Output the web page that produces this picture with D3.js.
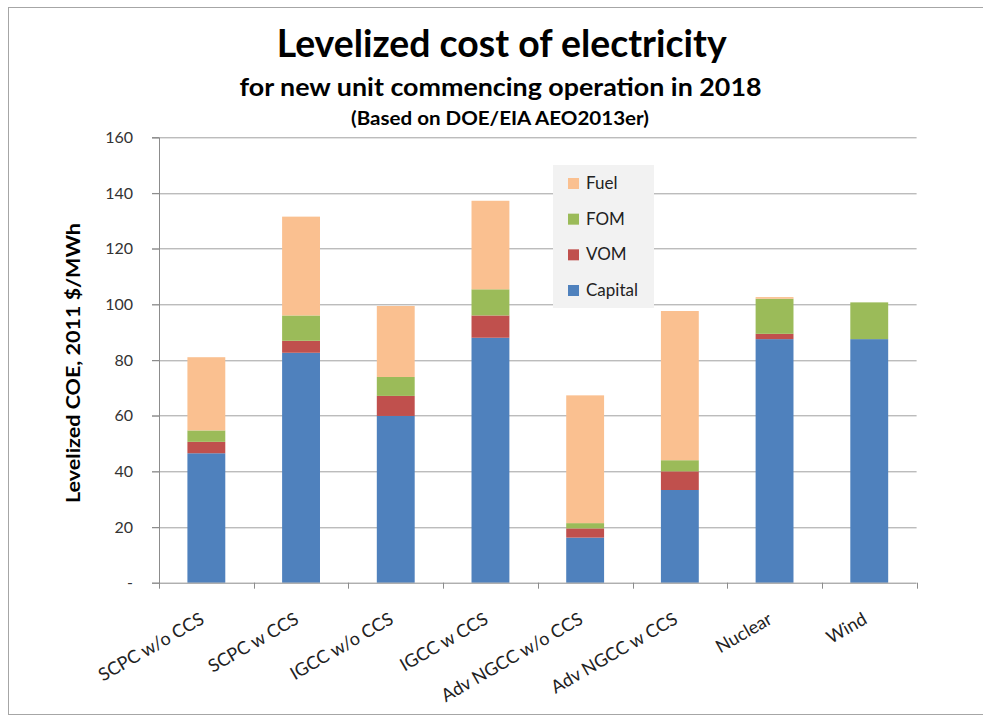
<!DOCTYPE html>
<html>
<head>
<meta charset="utf-8">
<script src="https://cdn.jsdelivr.net/npm/d3@7"></script>
<style>
  body { margin: 0; background: #fff; }
  text { font-family: Lato, "Open Sans", sans-serif; }
</style>
</head>
<body>
<div id="chart"></div>
<script>
// data ($/MWh, 2011 dollars)
var categories = ["SCPC w/o CCS", "SCPC w CCS", "IGCC w/o CCS", "IGCC w CCS",
  "Adv NGCC w/o CCS", "Adv NGCC w CCS", "Nuclear", "Wind"];
var capital = [46.5, 82.6, 59.9, 88.0, 16.2, 33.3, 87.5, 87.5];
var vom = [4.1, 4.3, 7.2, 8.0, 3.3, 6.7, 1.9, 0];
var fom = [4.1, 9.1, 6.8, 9.4, 1.9, 4.0, 12.6, 13.2];
var fuel = [26.3, 35.5, 25.5, 31.8, 45.9, 53.6, 0.6, 0];
var seriesNames = ["Capital", "VOM", "FOM", "Fuel"];
var yTicks = [0, 20, 40, 60, 80, 100, 120, 140, 160];

var colors = {Capital: "#4f81bd", VOM: "#c0504d", FOM: "#9bbb59", Fuel: "#fac090"};

// svg params
var svgWidth = 983;
var svgHeight = 719;
var margin = {top: 137.3, right: 66.4, bottom: 136.3, left: 159};
var chartWidth = svgWidth - margin.left - margin.right;
var chartHeight = svgHeight - margin.top - margin.bottom;

var svg = d3.select("#chart").append("svg")
  .attr("width", svgWidth)
  .attr("height", svgHeight);

// outer frame
svg.append("rect")
  .attr("x", 8.5).attr("y", 7.5)
  .attr("width", 1000).attr("height", 707)
  .attr("fill", "none")
  .attr("stroke", "#a6a6a6");

// titles
svg.append("text")
  .attr("x", 501.7).attr("y", 57)
  .attr("text-anchor", "middle")
  .attr("font-size", "38px").attr("font-weight", "bold")
  .attr("textLength", 450).attr("lengthAdjust", "spacingAndGlyphs")
  .text("Levelized cost of electricity");
svg.append("text")
  .attr("x", 500.5).attr("y", 96)
  .attr("text-anchor", "middle")
  .attr("font-size", "24px").attr("font-weight", "bold")
  .attr("textLength", 522).attr("lengthAdjust", "spacingAndGlyphs")
  .text("for new unit commencing operation in 2018");
svg.append("text")
  .attr("x", 500).attr("y", 125)
  .attr("text-anchor", "middle")
  .attr("font-size", "18px").attr("font-weight", "bold")
  .attr("textLength", 298).attr("lengthAdjust", "spacingAndGlyphs")
  .text("(Based on DOE/EIA AEO2013er)");

var chartGroup = svg.append("g")
  .attr("transform", `translate(${margin.left}, ${margin.top})`);

// build rows for stacking
var rows = categories.map(function(c, i) {
  return {cat: c, Capital: capital[i], VOM: vom[i], FOM: fom[i], Fuel: fuel[i]};
});
var stacked = d3.stack().keys(seriesNames)(rows);

var xScale = d3.scaleBand()
  .domain(categories)
  .range([0, chartWidth])
  .paddingInner(0.6)
  .paddingOuter(0.3);

var yScale = d3.scaleLinear()
  .domain([0, 160])
  .range([chartHeight, 0]);

// gridlines
chartGroup.append("g")
  .selectAll("line")
  .data(yTicks.filter(d => d > 0))
  .enter()
  .append("line")
  .attr("x1", -7).attr("x2", chartWidth)
  .attr("y1", d => Math.round(yScale(d)) + 0.5)
  .attr("y2", d => Math.round(yScale(d)) + 0.5)
  .attr("stroke", "#a0a0a0");

// bars
chartGroup.selectAll("g.series")
  .data(stacked)
  .enter()
  .append("g")
  .attr("class", "series")
  .attr("fill", d => colors[d.key])
  .selectAll("rect")
  .data(d => d)
  .enter()
  .append("rect")
  .attr("x", d => xScale(d.data.cat))
  .attr("width", xScale.bandwidth())
  .attr("y", d => yScale(d[1]))
  .attr("height", d => yScale(d[0]) - yScale(d[1]));

// y axis
var leftAxis = d3.axisLeft(yScale)
  .tickValues(yTicks)
  .tickSize(7)
  .tickPadding(19)
  .tickFormat(d => d === 0 ? "-" : d);
var yAxisG = chartGroup.append("g").call(leftAxis);
yAxisG.select(".domain").attr("stroke", "#8c8c8c");
yAxisG.selectAll(".tick line").attr("stroke", "#8c8c8c");
yAxisG.selectAll(".tick text")
  .attr("font-size", "16px")
  .attr("fill", "#333")
  .style("font-family", "Lato, sans-serif");

// x axis line and category boundary ticks
var xAxisG = chartGroup.append("g")
  .attr("transform", `translate(0, ${chartHeight})`);
xAxisG.append("line")
  .attr("x1", 0).attr("x2", chartWidth)
  .attr("y1", 0.5).attr("y2", 0.5)
  .attr("stroke", "#8c8c8c");
xAxisG.selectAll("line.tick")
  .data(d3.range(categories.length + 1))
  .enter()
  .append("line")
  .attr("class", "tick")
  .attr("x1", i => Math.round(i * xScale.step()) + 0.5)
  .attr("x2", i => Math.round(i * xScale.step()) + 0.5)
  .attr("y1", 0).attr("y2", 6)
  .attr("stroke", "#8c8c8c");

// rotated category labels
xAxisG.selectAll("text.cat")
  .data(categories)
  .enter()
  .append("text")
  .attr("class", "cat")
  .attr("text-anchor", "end")
  .attr("font-size", "18px")
  .attr("fill", "#222")
  .attr("transform", d => `translate(${xScale(d) + xScale.bandwidth() / 2 - 1}, 40) rotate(-30)`)
  .text(d => d);

// y axis title
svg.append("text")
  .attr("transform", "translate(80, 363) rotate(-90)")
  .attr("text-anchor", "middle")
  .attr("font-size", "19px")
  .attr("font-weight", "bold")
  .attr("textLength", 280).attr("lengthAdjust", "spacingAndGlyphs")
  .text("Levelized COE, 2011 $/MWh");

// legend
var legend = svg.append("g");
legend.append("rect")
  .attr("x", 553).attr("y", 165)
  .attr("width", 101).attr("height", 143)
  .attr("fill", "#f2f2f2");
var legendOrder = ["Fuel", "FOM", "VOM", "Capital"];
var legendY = d3.scalePoint().domain(legendOrder).range([183, 290]);
var items = legend.selectAll("g.item")
  .data(legendOrder)
  .enter()
  .append("g")
  .attr("class", "item")
  .attr("transform", d => `translate(568, ${legendY(d)})`);
items.append("rect")
  .attr("x", 0).attr("y", -5)
  .attr("width", 11).attr("height", 11)
  .attr("fill", d => colors[d]);
items.append("text")
  .attr("x", 18).attr("y", 6)
  .attr("font-size", "17px")
  .attr("fill", "#222")
  .text(d => d);
</script>
</body>
</html>
